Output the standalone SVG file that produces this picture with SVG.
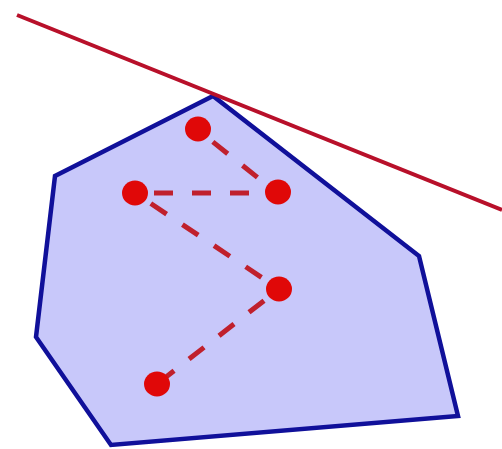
<svg xmlns="http://www.w3.org/2000/svg" width="502" height="449" viewBox="0 0 502 449">
<style>
.hull{fill:#c8c8fa;stroke:#10109a;stroke-width:4.5;stroke-linejoin:miter}
.tangent{stroke:#b8102a;stroke-width:4;fill:none}
.edge{stroke:#c0202c;stroke-width:5;stroke-dasharray:19 19;stroke-dashoffset:19;fill:none}
.pt{fill:#e00808}
</style>
<rect width="502" height="449" fill="#ffffff"/>
<g id="hull"><polygon class="hull" points="213,96 55,176 36,337 111,445 458,416 419,256"/></g>
<g id="connectors">
<line class="edge" x1="198" y1="130" x2="277" y2="193"/>
<line class="edge" x1="135" y1="193" x2="277" y2="193"/>
<line class="edge" x1="135" y1="193" x2="279" y2="289"/>
<line class="edge" x1="279" y1="289" x2="157" y2="384"/>
</g>
<g id="tangent"><line class="tangent" x1="17" y1="15" x2="502" y2="210"/></g>
<g id="p1"><ellipse class="pt" cx="198" cy="129" rx="13" ry="12.5"/></g>
<g id="p2"><ellipse class="pt" cx="135" cy="193" rx="13" ry="12.5"/></g>
<g id="p3"><ellipse class="pt" cx="278" cy="192" rx="13" ry="12.5"/></g>
<g id="p4"><ellipse class="pt" cx="279" cy="289" rx="13" ry="12.5"/></g>
<g id="p5"><ellipse class="pt" cx="157" cy="384" rx="13" ry="12.5"/></g>
</svg>
